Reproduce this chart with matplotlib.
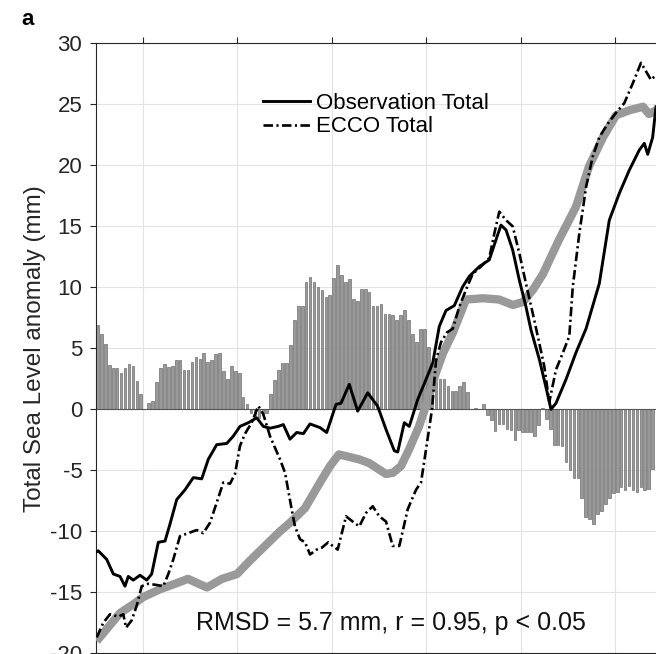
import numpy as np
import matplotlib.pyplot as plt

plt.rcParams['font.family'] = ['Liberation Sans', 'DejaVu Sans']
plt.rcParams['axes.unicode_minus'] = False

# monthly difference bars (mm), starting Jan 1993
bar_vals = [6.9, 6.2, 5.35, 3.6, 3.4, 3.35, 2.95, 3.4, 3.75, 3.55, 2.3, 1.25,
            0.05, 0.5, 0.65, 2.2, 3.4, 3.7, 3.5, 3.55, 4.05, 4.0, 3.25, 3.2,
            3.85, 4.3, 4.1, 4.6, 3.9, 4.05, 4.5, 4.6, 3.1, 2.5, 3.55, 3.1,
            3.0, 1.0, 0.45, -0.3, -0.8, -0.7, -0.5, -0.3, 1.25, 2.4, 3.2, 3.8,
            3.8, 5.25, 7.3, 8.5, 8.5, 10.4, 10.85, 10.4, 10.0, 9.75, 9.2, 9.4,
            10.8, 11.8, 11.0, 10.45, 10.7, 9.0, 8.9, 9.9, 9.85, 9.6, 8.5, 8.5,
            8.6, 7.85, 7.85, 7.7, 7.3, 7.7, 8.1, 7.3, 6.2, 5.5, 6.6, 6.6,
            5.1, 3.6, 2.9, 2.45, 2.5, 1.9, 1.5, 1.5, 1.9, 2.2, 1.4, 0.05,
            0.1, 0.05, 0.4, -0.5, -0.9, -1.8, -1.2, -1.2, -1.6, -1.7, -2.5, -1.7,
            -1.9, -1.9, -1.9, -2.2, -1.3, 0.1, -0.8, -1.6, -2.9, -2.9, -3.0, -4.3,
            -4.95, -5.6, -5.6, -7.3, -8.8, -9.0, -9.4, -8.6, -8.3, -7.8, -7.3, -6.9,
            -6.75, -6.4, -6.6, -6.3, -6.6, -6.75, -6.4, -6.6, -6.5, -4.9]
bar_years = 1993 + (np.arange(len(bar_vals)) + 0.5) / 12

# thick grey curve
grey_t = [1993.025, 1993.519, 1993.794, 1994.005, 1994.365, 1994.683, 1994.958, 1995.212,
          1995.360, 1995.677, 1995.995, 1996.270, 1996.587, 1996.905, 1997.116, 1997.434,
          1997.751, 1997.963, 1998.153, 1998.577, 1998.788, 1999.148, 1999.296, 1999.466,
          1999.635, 1999.847, 2000.037, 2000.206, 2000.354, 2000.566, 2000.841, 2001.201,
          2001.540, 2001.836, 2002.048, 2002.259, 2002.471, 2002.810, 2003.169, 2003.444,
          2003.741, 2004.016, 2004.291, 2004.587, 2004.714, 2004.862]
grey_v = [-19.0, -16.7, -16.0, -15.4, -14.75, -14.3, -13.9, -14.35,
          -14.6, -13.9, -13.5, -12.4, -11.2, -10.0, -9.3, -8.1,
          -6.0, -4.65, -3.7, -4.1, -4.4, -5.3, -5.2, -4.65,
          -3.3, -1.4, 0.8, 3.0, 4.6, 6.3, 9.0, 9.1,
          9.0, 8.55, 8.8, 9.8, 11.1, 13.9, 16.6, 19.9,
          22.3, 24.1, 24.5, 24.8, 24.2, 24.5]

# Observation Total
obs_t = [1993.011, 1993.059, 1993.237, 1993.377, 1993.519, 1993.624, 1993.694, 1993.800,
         1993.942, 1994.084, 1994.189, 1994.329, 1994.471, 1994.577, 1994.719, 1994.894,
         1995.070, 1995.248, 1995.387, 1995.565, 1995.777, 1995.916, 1996.058, 1996.234,
         1996.412, 1996.551, 1996.693, 1996.869, 1996.975, 1997.116, 1997.258, 1997.398,
         1997.540, 1997.751, 1997.893, 1998.090, 1998.196, 1998.371, 1998.549, 1998.761,
         1998.972, 1999.148, 1999.324, 1999.396, 1999.535, 1999.641, 1999.819, 1999.995,
         2000.137, 2000.276, 2000.418, 2000.594, 2000.771, 2000.911, 2001.123, 2001.334,
         2001.476, 2001.582, 2001.688, 2001.830, 2001.969, 2002.111, 2002.217, 2002.393,
         2002.534, 2002.640, 2002.746, 2002.958, 2003.169, 2003.381, 2003.662, 2003.874,
         2004.086, 2004.297, 2004.509, 2004.615, 2004.687, 2004.792, 2004.862]
obs_v = [-11.7, -11.6, -12.3, -13.5, -13.7, -14.5, -13.7, -14.0,
         -13.6, -14.0, -13.5, -10.9, -10.8, -9.4, -7.4, -6.6,
         -5.6, -5.7, -4.1, -2.9, -2.8, -2.2, -1.4, -1.1,
         -0.7, -1.4, -1.55, -1.4, -1.25, -2.45, -1.9, -2.0,
         -1.2, -1.5, -1.9, 0.4, 0.5, 2.05, -0.15, 1.35,
         0.25, -1.65, -3.4, -3.5, -1.1, -1.4, 0.8, 2.45,
         3.8, 6.8, 8.1, 8.5, 10.05, 10.9, 11.7, 12.25,
         13.9, 15.1, 14.7, 13.05, 10.6, 8.4, 6.5, 4.1,
         1.8, 0.0, 0.5, 2.45, 4.65, 6.6, 10.3, 15.5,
         17.7, 19.6, 21.25, 21.8, 20.9, 22.3, 24.8]

# ECCO Total
ecco_t = [1993.025, 1993.165, 1993.307, 1993.483, 1993.588, 1993.646, 1993.766, 1993.872,
          1993.978, 1994.117, 1994.295, 1994.435, 1994.541, 1994.647, 1994.788, 1994.964,
          1995.142, 1995.281, 1995.423, 1995.565, 1995.705, 1995.847, 1995.952, 1996.058,
          1996.164, 1996.306, 1996.446, 1996.551, 1996.693, 1996.905, 1997.011, 1997.152,
          1997.222, 1997.328, 1997.434, 1997.540, 1997.681, 1997.787, 1997.927, 1998.020,
          1998.126, 1998.302, 1998.443, 1998.583, 1998.725, 1998.867, 1999.006, 1999.148,
          1999.290, 1999.430, 1999.607, 1999.783, 1999.889, 1999.995, 2000.122, 2000.206,
          2000.312, 2000.439, 2000.560, 2000.699, 2000.841, 2000.983, 2001.159, 2001.334,
          2001.440, 2001.546, 2001.688, 2001.830, 2001.969, 2002.111, 2002.287, 2002.499,
          2002.570, 2002.604, 2002.746, 2002.888, 2003.028, 2003.100, 2003.239, 2003.381,
          2003.523, 2003.662, 2003.840, 2004.016, 2004.192, 2004.369, 2004.545, 2004.651,
          2004.757, 2004.862]
ecco_v = [-18.7, -17.5, -16.8, -17.0, -16.8, -17.9, -17.3, -16.1,
          -14.5, -14.3, -14.4, -14.5, -13.5, -12.3, -10.4, -10.15,
          -9.9, -10.15, -9.3, -7.65, -6.0, -6.1, -5.3, -3.0,
          -2.0, -1.1, 0.27, -0.4, -2.2, -4.1, -5.2, -8.2,
          -9.6, -10.65, -10.9, -11.9, -11.5, -11.35, -10.9, -11.2,
          -11.5, -8.77, -9.2, -9.6, -8.5, -7.95, -8.77, -9.2,
          -11.2, -11.2, -8.2, -6.6, -6.0, -3.3, 0.0, 4.0,
          5.5, 6.3, 6.6, 8.4, 9.8, 11.1, 11.7, 12.4,
          14.4, 16.2, 15.5, 15.0, 12.8, 10.3, 7.3, 3.5,
          1.5, 0.6, 3.25, 4.6, 6.0, 10.0, 14.4, 18.2,
          20.7, 22.3, 23.4, 24.3, 25.1, 26.7, 28.4, 27.7,
          27.0, 27.4]

x_ticks = np.arange(1994, 2007, 2)
y_ticks = np.arange(-20, 31, 5)

W, H = 656, 654
fig = plt.figure(figsize=(W / 100, H / 100), dpi=100)
# axes runs past the right edge of the picture (cropped figure)
left, top, bottom = 95.5, 43.3, 653.3
right = left + 14 * 47.25
ax = fig.add_axes([left / W, 1 - bottom / H, (right - left) / W, (bottom - top) / H])

ax.bar(bar_years, bar_vals, width=0.055, color='#999999', edgecolor='#707070',
       linewidth=0.5, zorder=2)
ax.axhline(0, color='#555555', lw=0.8, zorder=2.5)
ax.plot(grey_t, grey_v, color='#999999', lw=6, solid_capstyle='butt', zorder=3)
ax.plot(obs_t, obs_v, color='k', lw=2.1, label='Observation Total', zorder=4)
ax.plot(ecco_t, ecco_v, color='k', lw=1.9, ls=(0, (3.6, 1.3, 0.8, 1.3)),
        label='ECCO Total', zorder=4)

ax.set_xlim(1993, 2007)
ax.set_ylim(-20, 30)
ax.set_xticks(x_ticks)
ax.set_yticks(y_ticks)
ax.grid(True, color='#e3e3e3', lw=0.8)
ax.set_axisbelow(True)
ax.tick_params(direction='out', length=4.5, width=0.8, top=True, right=True,
               labelsize=16, colors='#262626', pad=5)
ax.tick_params(axis='x', labelbottom=False)
for s in ax.spines.values():
    s.set_color('#262626')
    s.set_linewidth(0.8)

ax.set_ylabel('Total Sea Level anomaly (mm)', fontsize=17.5, color='#262626')
ax.yaxis.set_label_coords((46 - left) / (right - left), 0.5)

ax.legend(loc='center left', bbox_to_anchor=(263 / W, 1 - 115 / H),
          bbox_transform=fig.transFigure, frameon=False, fontsize=16,
          handlelength=2.1, handletextpad=0.27, labelspacing=0.12,
          borderpad=0, borderaxespad=0)

fig.text(390.5 / W, 1 - 622.7 / H, 'RMSD = 5.7 mm, r = 0.95, p < 0.05',
         ha='center', va='center', fontsize=18, color='#111111')
fig.text(21 / W, 1 - 19.5 / H, 'a', ha='left', va='center', fontsize=16,
         fontweight='bold')

fig.savefig('out.png', dpi=100)
